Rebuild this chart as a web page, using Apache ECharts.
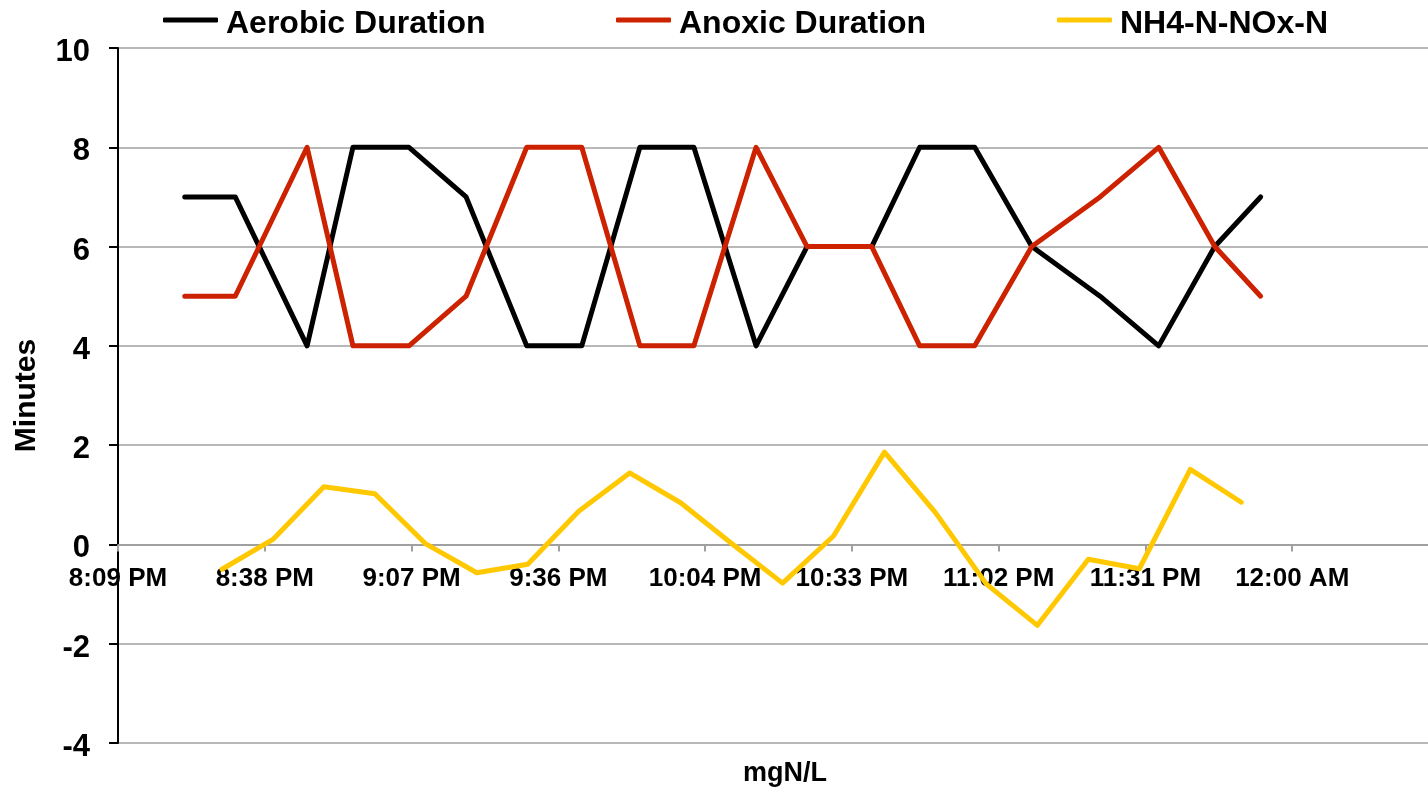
<!DOCTYPE html>
<html>
<head>
<meta charset="utf-8">
<script src="https://cdn.jsdelivr.net/npm/echarts@6/dist/echarts.min.js"></script>
<style>
html,body{margin:0;padding:0;background:#fff;}
#chart{width:1428px;height:788px;}
</style>
</head>
<body>
<div id="chart"></div>
<script>
// ---- data ----
var durationTimes = ["20:22:42","20:32:36","20:46:42","20:55:42","21:06:42","21:17:54","21:29:48","21:40:36","21:52:00","22:02:36",
                     "22:14:48","22:24:48","22:37:30","22:46:54","22:57:42","23:08:54","23:22:18","23:33:48","23:44:48","23:53:48"];
var aerobicDuration = [7,7,4,8,8,7,4,4,8,8,4,6,6,8,8,6,5,4,6,7];
var anoxicDuration  = [5,5,8,4,4,5,8,8,4,4,8,6,6,4,4,6,7,8,6,5];
var nh4Times = ["20:30","20:40","20:50","21:00","21:10","21:20","21:30","21:40","21:50","22:00","22:10",
                "22:20","22:30","22:40","22:50","23:00","23:10","23:20","23:30","23:40","23:50"];
var nh4MinusNOx = [-0.50,0.10,1.16,1.02,0.01,-0.57,-0.40,0.67,1.44,0.84,0.02,-0.78,0.17,1.86,0.64,-0.80,-1.63,-0.30,-0.49,1.51,0.85];
var seriesNames = ["Aerobic Duration","Anoxic Duration","NH4-N-NOx-N"];
var yTicks = {min:-4, max:10, step:2};
// x axis in seconds of day: 0.84 day .. 1.02 day, step 0.02 day
var xAxisRange = {min:72576, max:88128, step:1728};

function toSec(s){
  var p = s.split(':').map(Number);
  return p[0]*3600 + p[1]*60 + (p[2]||0);
}
function pairs(times, vals){
  return times.map(function(t,i){ return [toSec(t), vals[i]]; });
}
function fmtTime(v){
  var totalMin = Math.floor(v/60 + 1e-6);
  var h = Math.floor(totalMin/60) % 24;
  var m = totalMin % 60;
  var ampm = h >= 12 ? 'PM' : 'AM';
  var h12 = h % 12; if (h12 === 0) h12 = 12;
  return h12 + ':' + (m<10?'0':'') + m + ' ' + ampm;
}

var FONT = '"Liberation Sans", Arial, sans-serif';
var colors = ['#000000','#CC2200','#FFC800'];

var GRID_TOP = 48, GRID_BOTTOM = 45, H = 788;
// pixel distance from bottom of plot up to the y=0 line (x axis crosses at 0)
var zeroOffset = -((0 - yTicks.min) / (yTicks.max - yTicks.min)) * (H - GRID_TOP - GRID_BOTTOM);

function legendAt(idx, left){
  return {
    data:[seriesNames[idx]], left:left, top:8, padding:0,
    icon:'roundRect', itemWidth:55, itemHeight:5,
    formatter:'{t|{name}}',
    textStyle:{fontFamily:FONT, fontWeight:'bold', fontSize:32, color:'#000',
      rich:{t:{fontFamily:FONT, fontWeight:'bold', fontSize:32, color:'#000', padding:[8,0,0,3]}}},
    selectedMode:false
  };
}

var chart = echarts.init(document.getElementById('chart'), null, {renderer:'canvas'});
chart.setOption({
  animation:false,
  backgroundColor:'#fff',
  legend:[legendAt(0,163), legendAt(1,616), legendAt(2,1057)],
  grid:{left:118, right:-11, top:GRID_TOP, bottom:GRID_BOTTOM, containLabel:false, outerBoundsMode:'none'},
  xAxis:{
    type:'value', min:xAxisRange.min, max:xAxisRange.max, interval:xAxisRange.step,
    position:'bottom', offset:zeroOffset,
    name:'mgN/L', nameLocation:'middle', nameGap:216,
    nameTextStyle:{fontFamily:FONT, fontWeight:'bold', fontSize:27, color:'#000', padding:[0,0,0,13]},
    axisLine:{onZero:false, lineStyle:{color:'#a0a0a0', width:2}},
    axisTick:{show:true, length:7, lineStyle:{color:'#a0a0a0', width:2}},
    axisLabel:{formatter:fmtTime, fontFamily:FONT, fontWeight:'bold', fontSize:26, color:'#000', margin:21, showMaxLabel:false},
    splitLine:{show:false}
  },
  yAxis:{
    type:'value', min:yTicks.min, max:yTicks.max, interval:yTicks.step,
    name:'Minutes', nameLocation:'middle', nameGap:76, nameRotate:90,
    nameTextStyle:{fontFamily:FONT, fontWeight:'bold', fontSize:30, color:'#000'},
    axisLine:{show:true, onZero:false, lineStyle:{color:'#000', width:2}},
    axisTick:{show:true, length:9, lineStyle:{color:'#000', width:2}},
    axisLabel:{formatter:function(v){ return '{v|' + v + '}'; }, margin:28,
      rich:{v:{fontFamily:FONT, fontWeight:'bold', fontSize:31, color:'#000', padding:[9,0,0,0]}}},
    splitLine:{show:true, lineStyle:{color:'#a0a0a0', width:1.5}}
  },
  series:[
    {name:seriesNames[0], type:'line', data:pairs(durationTimes, aerobicDuration), showSymbol:false, symbol:'none',
     color:colors[0], lineStyle:{color:colors[0], width:5, cap:'round', join:'round'}},
    {name:seriesNames[1], type:'line', data:pairs(durationTimes, anoxicDuration), showSymbol:false, symbol:'none',
     color:colors[1], lineStyle:{color:colors[1], width:5, cap:'round', join:'round'}},
    {name:seriesNames[2], type:'line', data:pairs(nh4Times, nh4MinusNOx), showSymbol:false, symbol:'none',
     color:colors[2], lineStyle:{color:colors[2], width:5, cap:'round', join:'round'}}
  ]
});
</script>
</body>
</html>
